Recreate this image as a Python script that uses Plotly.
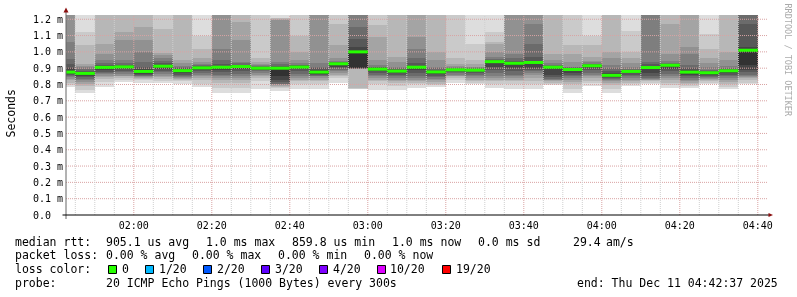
import plotly.graph_objects as go
import pandas as pd

W, H = 797, 297
ML, MR, MT, MB = 66, 29, 15, 82
PW, PH = W - ML - MR, H - MT - MB

# ---------------- data ----------------
slot_start = pd.date_range("2025-12-11 01:40:00", periods=36, freq="5min")
view_start = pd.Timestamp("2025-12-11 01:42:37")
view_end = pd.Timestamp("2025-12-11 04:42:37")

# 20 sorted ping RTTs (ms) per 5-minute slot
pings = [
    [0.785, 0.795, 0.81, 0.825, 0.835, 0.845, 0.853, 0.86, 0.866, 0.87, 0.885, 0.9, 0.925, 0.956, 1.06, 1.25, 1.28, 1.31, 1.34, 1.38],
    [0.745, 0.765, 0.79, 0.80, 0.815, 0.825, 0.835, 0.845, 0.855, 0.862, 0.872, 0.878, 0.885, 0.895, 0.905, 0.915, 0.925, 1.045, 1.12, 1.3],
    [0.785, 0.815, 0.835, 0.845, 0.855, 0.862, 0.87, 0.878, 0.886, 0.895, 0.908, 0.912, 0.92, 0.93, 0.95, 0.99, 1.048, 1.25, 1.3, 1.35],
    [0.815, 0.83, 0.84, 0.85, 0.855, 0.865, 0.875, 0.885, 0.895, 0.903, 0.91, 0.915, 0.92, 0.93, 0.95, 1.07, 1.12, 1.25, 1.3, 1.35],
    [0.812, 0.825, 0.835, 0.84, 0.845, 0.85, 0.855, 0.86, 0.865, 0.875, 0.885, 0.895, 0.91, 0.94, 1.0, 1.07, 1.15, 1.25, 1.3, 1.35],
    [0.81, 0.82, 0.835, 0.845, 0.855, 0.865, 0.875, 0.885, 0.895, 0.905, 0.915, 0.92, 0.93, 0.945, 0.96, 0.98, 0.995, 1.14, 1.25, 1.3],
    [0.805, 0.82, 0.83, 0.835, 0.84, 0.845, 0.85, 0.86, 0.87, 0.88, 0.89, 0.895, 0.9, 0.905, 0.915, 0.93, 0.95, 1.25, 1.3, 1.35],
    [0.783, 0.80, 0.83, 0.84, 0.85, 0.86, 0.87, 0.88, 0.89, 0.898, 0.905, 0.908, 0.912, 0.918, 0.925, 0.935, 0.96, 1.02, 1.10, 1.3],
    [0.75, 0.78, 0.81, 0.83, 0.84, 0.85, 0.86, 0.875, 0.89, 0.90, 0.91, 0.915, 0.925, 0.95, 1.02, 1.25, 1.28, 1.31, 1.34, 1.38],
    [0.748, 0.78, 0.81, 0.83, 0.84, 0.85, 0.865, 0.88, 0.895, 0.906, 0.914, 0.917, 0.922, 0.93, 0.94, 1.07, 1.185, 1.25, 1.3, 1.35],
    [0.77, 0.82, 0.84, 0.85, 0.86, 0.87, 0.88, 0.888, 0.893, 0.897, 0.902, 0.905, 0.908, 0.912, 0.918, 0.925, 0.935, 0.96, 1.25, 1.3],
    [0.76, 0.78, 0.785, 0.79, 0.795, 0.80, 0.805, 0.815, 0.83, 0.85, 0.903, 0.908, 0.915, 0.925, 0.935, 1.195, 1.2, 1.205, 1.21, 1.3],
    [0.77, 0.80, 0.82, 0.83, 0.84, 0.85, 0.865, 0.88, 0.895, 0.903, 0.91, 0.913, 0.917, 0.922, 0.93, 0.95, 1.0, 1.1, 1.25, 1.3],
    [0.77, 0.80, 0.82, 0.83, 0.84, 0.85, 0.855, 0.86, 0.865, 0.87, 0.882, 0.89, 0.9, 0.91, 0.93, 1.25, 1.28, 1.31, 1.34, 1.38],
    [0.81, 0.84, 0.85, 0.86, 0.87, 0.88, 0.89, 0.90, 0.91, 0.922, 0.93, 0.932, 0.935, 0.94, 0.945, 0.96, 1.04, 1.17, 1.25, 1.3],
    [0.77, 0.775, 0.78, 0.895, 0.896, 0.897, 0.898, 0.899, 0.9, 0.9, 1.005, 1.03, 1.08, 1.15, 1.25, 1.28, 1.31, 1.34, 1.37, 1.4],
    [0.765, 0.80, 0.82, 0.83, 0.84, 0.85, 0.86, 0.87, 0.88, 0.89, 0.897, 0.9, 0.905, 0.91, 0.92, 0.95, 1.09, 1.165, 1.25, 1.3],
    [0.765, 0.79, 0.81, 0.82, 0.83, 0.84, 0.85, 0.86, 0.87, 0.878, 0.885, 0.89, 0.895, 0.9, 0.91, 0.94, 0.97, 1.25, 1.3, 1.35],
    [0.78, 0.80, 0.81, 0.82, 0.83, 0.84, 0.855, 0.87, 0.89, 0.9, 0.91, 0.915, 0.93, 0.96, 1.02, 1.09, 1.25, 1.28, 1.31, 1.35],
    [0.785, 0.795, 0.805, 0.815, 0.825, 0.835, 0.845, 0.855, 0.865, 0.873, 0.88, 0.885, 0.89, 0.9, 0.91, 0.95, 1.0, 1.25, 1.3, 1.35],
    [0.81, 0.83, 0.84, 0.85, 0.855, 0.86, 0.87, 0.875, 0.88, 0.887, 0.892, 0.894, 0.897, 0.9, 0.905, 0.915, 0.925, 0.96, 1.25, 1.3],
    [0.80, 0.81, 0.82, 0.83, 0.84, 0.85, 0.86, 0.87, 0.88, 0.885, 0.892, 0.894, 0.897, 0.9, 0.905, 0.91, 0.925, 0.95, 1.05, 1.3],
    [0.78, 0.80, 0.82, 0.83, 0.84, 0.85, 0.87, 0.89, 0.91, 0.935, 0.943, 0.945, 0.948, 0.955, 0.97, 1.0, 1.05, 1.06, 1.12, 1.3],
    [0.77, 0.80, 0.82, 0.83, 0.84, 0.85, 0.86, 0.88, 0.9, 0.925, 0.933, 0.937, 0.945, 0.96, 0.99, 1.25, 1.28, 1.31, 1.34, 1.38],
    [0.775, 0.80, 0.82, 0.84, 0.86, 0.87, 0.88, 0.89, 0.9, 0.93, 0.94, 0.945, 0.97, 1.05, 1.17, 1.25, 1.28, 1.31, 1.34, 1.38],
    [0.795, 0.805, 0.81, 0.82, 0.825, 0.83, 0.835, 0.845, 0.86, 0.9, 0.91, 0.912, 0.915, 0.92, 0.93, 0.95, 0.99, 1.25, 1.3, 1.35],
    [0.75, 0.77, 0.80, 0.815, 0.83, 0.84, 0.85, 0.86, 0.87, 0.89, 0.895, 0.897, 0.9, 0.905, 0.91, 0.94, 0.99, 1.04, 1.25, 1.3],
    [0.79, 0.81, 0.82, 0.84, 0.85, 0.86, 0.87, 0.89, 0.9, 0.91, 0.918, 0.92, 0.923, 0.928, 0.935, 0.945, 0.97, 1.04, 1.1, 1.3],
    [0.75, 0.77, 0.795, 0.81, 0.82, 0.83, 0.835, 0.84, 0.845, 0.85, 0.862, 0.87, 0.88, 0.9, 0.92, 0.96, 1.0, 1.25, 1.3, 1.35],
    [0.79, 0.80, 0.81, 0.82, 0.83, 0.84, 0.85, 0.86, 0.87, 0.877, 0.883, 0.886, 0.89, 0.895, 0.91, 0.93, 0.96, 1.0, 1.13, 1.3],
    [0.80, 0.81, 0.82, 0.825, 0.83, 0.835, 0.84, 0.85, 0.87, 0.9, 0.91, 0.915, 0.925, 0.94, 1.25, 1.28, 1.31, 1.34, 1.37, 1.4],
    [0.778, 0.795, 0.81, 0.83, 0.84, 0.85, 0.865, 0.88, 0.895, 0.915, 0.92, 0.922, 0.925, 0.93, 0.945, 0.99, 1.17, 1.25, 1.3, 1.35],
    [0.78, 0.79, 0.80, 0.81, 0.82, 0.83, 0.84, 0.85, 0.86, 0.872, 0.88, 0.888, 0.9, 0.92, 0.99, 1.03, 1.25, 1.28, 1.31, 1.35],
    [0.80, 0.81, 0.82, 0.83, 0.835, 0.84, 0.845, 0.85, 0.86, 0.868, 0.875, 0.878, 0.883, 0.89, 0.905, 0.93, 0.96, 1.02, 1.11, 1.3],
    [0.77, 0.785, 0.80, 0.815, 0.83, 0.84, 0.85, 0.86, 0.87, 0.88, 0.887, 0.89, 0.895, 0.9, 0.915, 0.95, 1.0, 1.25, 1.3, 1.35],
    [0.80, 0.81, 0.83, 0.84, 0.845, 0.85, 0.86, 0.875, 0.89, 0.92, 1.015, 1.03, 1.17, 1.25, 1.28, 1.31, 1.34, 1.37, 1.4, 1.43],
]

medians = [0.876, 0.868, 0.905, 0.908, 0.88, 0.912, 0.885, 0.902, 0.906, 0.91,
           0.9, 0.9, 0.907, 0.876, 0.927, 1.0, 0.894, 0.882, 0.906, 0.877,
           0.89, 0.888, 0.94, 0.93, 0.935, 0.906, 0.892, 0.915, 0.856, 0.88,
           0.904, 0.918, 0.876, 0.872, 0.884, 1.01]

y_tick_values = [0.0, 0.1, 0.2, 0.3, 0.4, 0.5, 0.6, 0.7, 0.8, 0.9, 1.0, 1.1, 1.2]
y_tick_labels = ["0.0\u00a0\u00a0", "0.1 m", "0.2 m", "0.3 m", "0.4 m", "0.5 m", "0.6 m",
                 "0.7 m", "0.8 m", "0.9 m", "1.0 m", "1.1 m", "1.2 m"]
x_major_labels = ["02:00", "02:20", "02:40", "03:00", "03:20", "03:40",
                  "04:00", "04:20", "04:40"]
Y_MAX = 1.226

loss_labels = ["0", "1/20", "2/20", "3/20", "4/20", "10/20", "19/20"]
loss_colors = ["#26ff00", "#00b8ff", "#0059ff", "#5e00ff", "#7e00ff", "#dd00ff", "#ff0000"]

legend_rtt = ["905.1 us avg", "1.0 ms max", "859.8 us min", "1.0 ms now", "0.0 ms sd", "29.4", "am/s"]
legend_loss = ["0.00 % avg", "0.00 % max", "0.00 % min", "0.00 % now"]
probe_text = "20 ICMP Echo Pings (1000 Bytes) every 300s"
end_text = "end: Thu Dec 11 04:42:37 2025"

# ---------------- helpers ----------------
def px(x):
    return (x - ML) / PW

def py(y):
    return (H - MB - y) / PH

MONO = "DejaVu Sans Mono"
TXT = "#000000"
fig = go.Figure()

# smoke bands (outer = light, inner = dark)
centers = slot_start + pd.Timedelta(seconds=150)
half = 10
for i in range(1, half + 1):
    c = int(190 / half * (half - i)) + 50
    lo = [p[i - 1] for p in pings]
    hi = [p[20 - i] for p in pings]
    fig.add_trace(go.Bar(
        x=centers, base=lo, y=[h - l for h, l in zip(hi, lo)],
        width=300000, marker=dict(color=f"rgb({c},{c},{c})", line=dict(width=0)),
        hoverinfo="skip", showlegend=False))

# grid on top (rrdtool draws grid over the graph)
gx, gy = [], []
for v in y_tick_values[1:]:
    gx += [view_start, view_end, None]
    gy += [v, v, None]
fig.add_trace(go.Scatter(x=gx, y=gy, mode="lines", line=dict(color="#d9a3a3", width=1, dash="1px,1px"),
                         hoverinfo="skip", showlegend=False))
minor_t = pd.date_range("2025-12-11 01:45:00", "2025-12-11 04:40:00", freq="5min")
mx, my, Mx, My = [], [], [], []
for t in minor_t:
    if t.minute % 20 == 0:
        Mx += [t, t, None]; My += [0, Y_MAX, None]
    else:
        mx += [t, t, None]; my += [0, Y_MAX, None]
fig.add_trace(go.Scatter(x=mx, y=my, mode="lines", line=dict(color="#cfcfcf", width=1, dash="1px,1px"),
                         hoverinfo="skip", showlegend=False))
fig.add_trace(go.Scatter(x=Mx, y=My, mode="lines", line=dict(color="#d9a3a3", width=1, dash="1px,1px"),
                         hoverinfo="skip", showlegend=False))

# median line per slot
medx, medy = [], []
for s, m in zip(slot_start, medians):
    medx += [s, s + pd.Timedelta(minutes=5), None]
    medy += [m, m, None]
fig.add_trace(go.Scatter(x=medx, y=medy, mode="lines", line=dict(color=loss_colors[0], width=3),
                         hoverinfo="skip", showlegend=False))

major_vals = [t for t in minor_t if t.minute % 20 == 0]

fig.update_layout(
    width=W, height=H, margin=dict(l=ML, r=MR, t=MT, b=MB),
    paper_bgcolor="white", plot_bgcolor="white",
    barmode="overlay", bargap=0, showlegend=False,
    font=dict(family=MONO, color="#000000"),
    xaxis=dict(type="date", range=[view_start, view_end], tickvals=major_vals,
               ticktext=x_major_labels, showgrid=False, zeroline=False, showline=False,
               ticks="", ticklabelstandoff=3,
               tickfont=dict(family=MONO, size=10, color=TXT), fixedrange=True),
    yaxis=dict(range=[0, Y_MAX], tickvals=y_tick_values, ticktext=y_tick_labels,
               showgrid=False, zeroline=False, showline=False, ticks="", ticklabelstandoff=2,
               tickfont=dict(family=MONO, size=10, color=TXT), fixedrange=True),
)

shapes = []
# axes
shapes.append(dict(type="line", xref="paper", yref="paper", x0=px(66), x1=px(66), y0=py(219), y1=py(12),
                   line=dict(color="#666666", width=1)))
shapes.append(dict(type="line", xref="paper", yref="paper", x0=px(62.5), x1=px(769), y0=py(215), y1=py(215),
                   line=dict(color="#000000", width=1)))
# arrows
shapes.append(dict(type="path", xref="paper", yref="paper",
                   path=f"M {px(63.5)} {py(12.5)} L {px(68.5)} {py(12.5)} L {px(66)} {py(7.5)} Z",
                   fillcolor="#8b1010", line=dict(width=0)))
shapes.append(dict(type="path", xref="paper", yref="paper",
                   path=f"M {px(768.5)} {py(213)} L {px(768.5)} {py(217)} L {px(773)} {py(215)} Z",
                   fillcolor="#8b1010", line=dict(width=0)))
# loss color boxes
box_x = [108.5, 145.5, 203.5, 261.5, 319.5, 377.5, 442.5]
lab_x = [123.3, 160, 218.3, 276.7, 334.3, 391.7, 457.3]
for bx, col in zip(box_x, loss_colors):
    shapes.append(dict(type="rect", xref="paper", yref="paper", x0=px(bx), x1=px(bx + 8),
                       y0=py(273.5), y1=py(265.5), fillcolor=col, line=dict(color="#000", width=1)))
fig.update_layout(shapes=shapes)

ann = []
DX = -1.5
def text(x, y, s, size=11.5, color=TXT, angle=0, xanchor="left", dx=DX):
    ann.append(dict(x=px(x + dx), y=py(y), xref="paper", yref="paper", text=s, showarrow=False,
                    xanchor=xanchor, yanchor="middle", textangle=angle,
                    font=dict(family=MONO, size=size, color=color), borderpad=0))

text(15, 241.5, "median rtt:")
for s, x in zip(legend_rtt, [106.5, 206.5, 292.5, 392.5, 478.5, 573.5, 606.5]):
    text(x, 241.5, s)
text(15, 255, "packet loss:")
for s, x in zip(legend_loss, [106.5, 192.5, 278.5, 364.5]):
    text(x, 255, s)
text(15, 269, "loss color:")
for s, x in zip(loss_labels, lab_x):
    text(x - 0.8, 269, s)
text(15, 282.5, "probe:")
text(106.5, 282.5, probe_text)
text(577.5, 282.5, end_text)
text(10.5, 114, "Seconds", angle=-90, xanchor="center", dx=0)
text(787.5, 60, "RRDTOOL / TOBI OETIKER", size=8.5, color="#aaaaaa", angle=90, xanchor="center", dx=0)
fig.update_layout(annotations=ann)

# grayscale text antialiasing (as in the rrdtool PNG)
post = ("document.querySelectorAll('.main-svg').forEach(function(s){"
        "s.style.willChange='transform';s.style.webkitFontSmoothing='antialiased';});")
fig.write_html("out.html", post_script=post)
